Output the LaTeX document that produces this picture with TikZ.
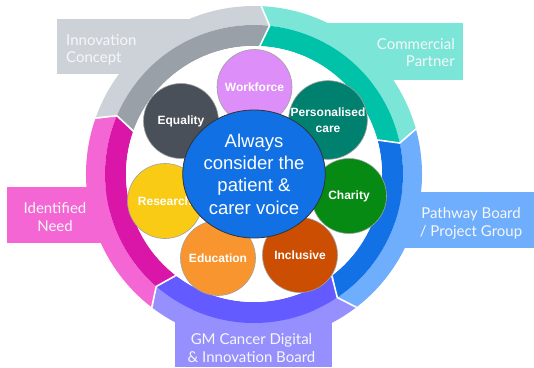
\documentclass[tikz,border=0pt]{standalone}
\usepackage{fontspec}
\setmainfont{Liberation Sans}
\newfontfamily\latofont{Lato}
\usetikzlibrary{shapes.geometric}
\definecolor{grayD}{HTML}{9AA0A8}
\definecolor{grayL}{HTML}{CDD2D9}
\definecolor{tealD}{HTML}{00C2A8}
\definecolor{tealL}{HTML}{7BE5D8}
\definecolor{blueD}{HTML}{1271E4}
\definecolor{blueL}{HTML}{6EAEFC}
\definecolor{purpD}{HTML}{635BFF}
\definecolor{purpL}{HTML}{9590FE}
\definecolor{pinkD}{HTML}{DA16A8}
\definecolor{pinkL}{HTML}{F566D5}
\definecolor{cWorkC}{HTML}{DE8EF8}
\definecolor{cPersC}{HTML}{00806F}
\definecolor{cCharC}{HTML}{068A13}
\definecolor{cInclC}{HTML}{CB4E02}
\definecolor{cEducC}{HTML}{F9952F}
\definecolor{cReseC}{HTML}{FACB15}
\definecolor{cEquaC}{HTML}{4A5059}
\definecolor{ctrC}{HTML}{1170E4}
\definecolor{bubline}{HTML}{A0A0A0}
\definecolor{labtext}{HTML}{F7F7F7}
\def\rIn{128}
\def\rMid{149}
\def\rOut{168}
\newcommand\lightseg[3]{%
  \fill[#3] (#1:\rOut) -- ({#1-4}:\rMid) arc[start angle={#1-4}, end angle={#2-4}, radius=\rMid] -- (#2:\rOut) arc[start angle=#2, end angle=#1, radius=\rOut] -- cycle;}
\newcommand\darkseg[3]{%
  \fill[#3] (#1:\rIn) -- ({#1-4}:\rMid) arc[start angle={#1-4}, end angle={#2-4}, radius=\rMid] -- (#2:\rIn) arc[start angle=#2, end angle=#1, radius=\rIn] -- cycle;}
\newcommand\bubfont{\bfseries\fontsize{12}{16}\selectfont}
\newcommand\labfont{\latofont\fontsize{15}{17.5}\selectfont}
\newcommand\ctrfont{\fontsize{18.5}{22.3}\selectfont}
\tikzset{
  bub/.style={circle, minimum size=75pt, inner sep=0pt, draw=bubline, line width=0.6pt, text=white, font=\bubfont, align=center},
  lab/.style={text=labtext, font=\labfont, inner sep=0pt},
}
\begin{document}
\begin{tikzpicture}[x=1pt,y=1pt]
\useasboundingbox (-254,-193) rectangle (280,174);
% label boxes (light)
\fill[grayL] (-197,155) rectangle (-65,100);
\fill[tealL] (74,151) rectangle (209,94);
\fill[blueL] (141,-18) rectangle (280,-74);
\fill[purpL] (-79,-136) rectangle (78,-193);
\fill[pinkL] (-247,-13) rectangle (-144,-69);
% light bands
\lightseg{161}{88}{grayL}
\lightseg{88}{16}{tealL}
\lightseg{16}{-52}{blueL}
\lightseg{-52}{-127}{purpL}
\lightseg{-127}{-199}{pinkL}
% dark bands
\darkseg{161}{88}{grayD}
\darkseg{88}{16}{tealD}
\darkseg{16}{-52}{blueD}
\darkseg{-52}{-127}{purpD}
\darkseg{-127}{-199}{pinkD}
% clear interior
\fill[white] (0,0) circle[radius=\rIn];
% junction gaps
\foreach \a in {161,88,16,-52,-127}
  \draw[white, line width=1.6pt] (\a:{\rOut+3}) -- ({\a-4}:\rMid) -- (\a:{\rIn-3});
% labels (anchor = baseline of last line)
\node[lab, anchor=base west, align=left] (lInnov) at (-188,111) {Innovation\\Concept};
\node[lab, anchor=base east, align=right] (lComm) at (201,107) {Commercial\\Partner};
\node[lab, anchor=base, align=center] (lPath) at (217,-62) {Pathway Board\\/ Project Group};
\node[lab, anchor=base, align=center] (lGM) at (-2.5,-188) {GM Cancer Digital\\\& Innovation Board};
\node[lab, anchor=base, align=center] (lNeed) at (-199,-57) {Identified\\Need};
% bubbles
\node[bub, fill=cReseC] (cRes) at (-89,-27) {Research};
\node[bub, fill=cEquaC] (cEqu) at (-73,53) {Equality};
\node[bub, fill=cWorkC] (cWork) at (0.5,87) {Workforce};
\node[bub, fill=cPersC] (cPers) at (74,54) {Personalised\\care};
\node[bub, fill=cCharC] (cChar) at (95,-22) {Charity};
\node[bub, fill=cInclC] (cIncl) at (46,-81) {Inclusive};
\node[bub, fill=cEducC] (cEduc) at (-36,-84) {Education};
% centre
\node[ellipse, minimum width=134pt, minimum height=128pt, inner sep=0pt, fill=ctrC, draw=black!80, line width=0.8pt, text=white, font=\ctrfont, align=center] (ctr) at (0,0) {Always\\consider the\\patient \&\\carer voice};
\end{tikzpicture}
\end{document}
